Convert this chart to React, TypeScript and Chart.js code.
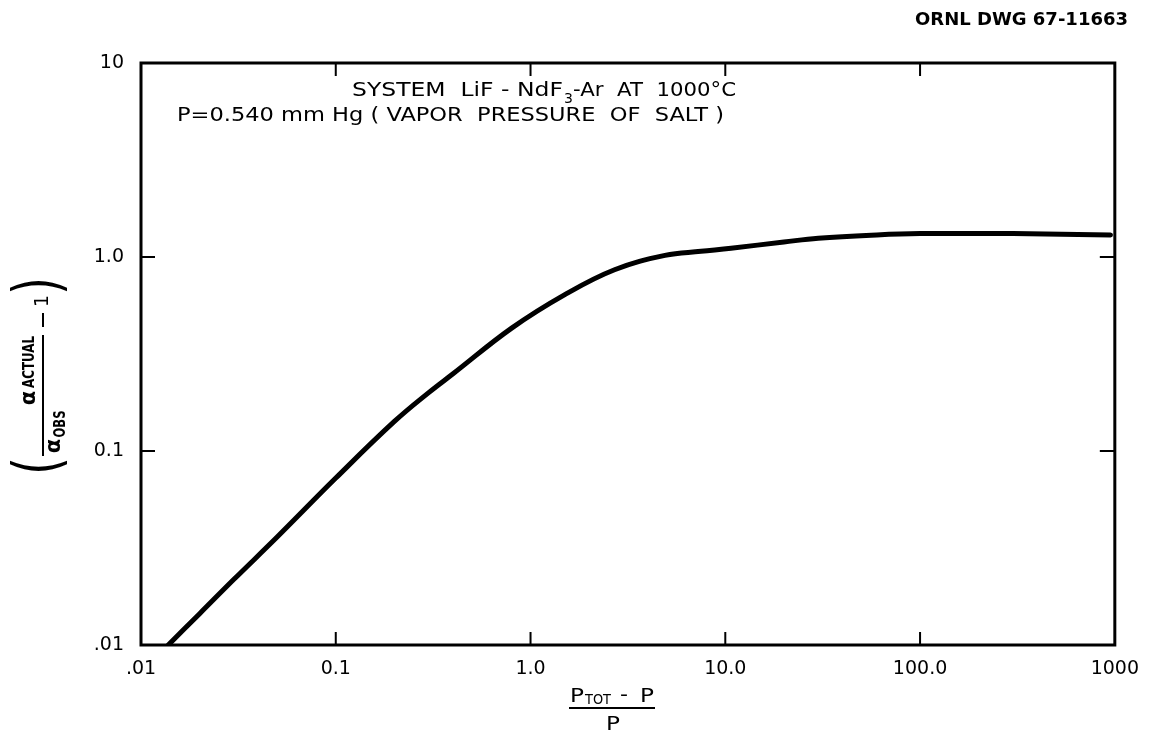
import React, { useEffect, useRef } from "react";
import { Chart, registerables } from "chart.js";

Chart.register(...registerables);

// Curve: (P_TOT - P)/P  vs  (alpha_actual/alpha_obs - 1)
const xValues = [0.0138, 0.02, 0.03, 0.05, 0.1, 0.2, 0.3, 0.4, 0.8, 1.5, 2.7, 4.9, 7.5, 10.7, 20, 30, 60, 100, 300, 950];
const yValues = [0.01, 0.0145, 0.0218, 0.036, 0.0725, 0.142, 0.2, 0.25, 0.43, 0.64, 0.86, 1.02, 1.07, 1.11, 1.195, 1.25, 1.3, 1.32, 1.32, 1.3];

const xTickValues = [0.01, 0.1, 1, 10, 100, 1000];
const xTickLabels = [".01", "0.1", "1.0", "10.0", "100.0", "1000"];
const yTickValues = [0.01, 0.1, 1, 10];
const yTickLabels = [".01", "0.1", "1.0", "10"];

const annotationLine1a = "SYSTEM  LiF - NdF";
const annotationLine1sub = "3";
const annotationLine1b = "-Ar  AT  1000°C";
const annotationLine2 = "P=0.540 mm Hg ( VAPOR  PRESSURE  OF  SALT )";
const drawingNumber = "ORNL DWG 67-11663";

const FONT = "'DejaVu Sans', 'Liberation Sans', sans-serif";

function labelFor(values: number[], labels: string[], v: number) {
  const i = values.findIndex((t) => Math.abs(Math.log10(t) - Math.log10(v)) < 1e-6);
  return i >= 0 ? labels[i] : "";
}

function fitText(ctx: CanvasRenderingContext2D, text: string, x: number, y: number, width: number, font: string) {
  ctx.save();
  ctx.font = font;
  ctx.textAlign = "left";
  ctx.textBaseline = "alphabetic";
  const w = ctx.measureText(text).width;
  ctx.translate(x, y);
  ctx.scale(width / w, 1);
  ctx.fillText(text, 0, 0);
  ctx.restore();
}

// text rotated -90deg, centered at (sx, sy), stretched along reading direction to len
function rotText(ctx: CanvasRenderingContext2D, text: string, sx: number, sy: number, font: string, len?: number) {
  ctx.save();
  ctx.translate(sx, sy);
  ctx.rotate(-Math.PI / 2);
  ctx.font = font;
  ctx.textAlign = "center";
  ctx.textBaseline = "middle";
  if (len) {
    const w = ctx.measureText(text).width;
    ctx.scale(len / w, 1);
  }
  ctx.fillText(text, 0, 0);
  ctx.restore();
}

const framePlugin = {
  id: "frame",
  afterDraw(chart: any) {
    const ctx: CanvasRenderingContext2D = chart.ctx;
    const { left, right, top, bottom } = chart.chartArea;
    const xs = chart.scales.x;
    const ys = chart.scales.y;
    ctx.save();
    ctx.strokeStyle = "#000";
    ctx.fillStyle = "#000";
    ctx.lineWidth = 3;
    ctx.strokeRect(left, top, right - left, bottom - top);

    ctx.lineWidth = 2;
    ctx.beginPath();
    xTickValues.slice(1, -1).forEach((v) => {
      const px = xs.getPixelForValue(v);
      ctx.moveTo(px, bottom);
      ctx.lineTo(px, bottom - 13);
      ctx.moveTo(px, top);
      ctx.lineTo(px, top + 13);
    });
    yTickValues.slice(1, -1).forEach((v) => {
      const py = ys.getPixelForValue(v);
      ctx.moveTo(left, py);
      ctx.lineTo(left + 14, py);
      ctx.moveTo(right, py);
      ctx.lineTo(right - 15, py);
    });
    ctx.stroke();

    // annotations inside the plot
    const f19 = `19px ${FONT}`;
    fitText(ctx, annotationLine1a, 352, 96, 211, f19);
    ctx.font = `14px ${FONT}`;
    ctx.fillText(annotationLine1sub, 564, 103);
    fitText(ctx, annotationLine1b, 573, 96, 163, f19);
    fitText(ctx, annotationLine2, 177, 121, 547, f19);

    // drawing number
    fitText(ctx, drawingNumber, 915, 25, 213, `bold 17px ${FONT}`);

    // x-axis title: (P_TOT - P) / P
    fitText(ctx, "P", 570, 702, 14, f19);
    fitText(ctx, "TOT", 585, 704, 26, `14px ${FONT}`);
    fitText(ctx, "-", 620, 701, 8, f19);
    fitText(ctx, "P", 640, 702, 14, f19);
    ctx.lineWidth = 2;
    ctx.beginPath();
    ctx.moveTo(569, 708);
    ctx.lineTo(655, 708);
    ctx.stroke();
    fitText(ctx, "P", 606, 730, 14, f19);

    // y-axis title: ( alpha_ACTUAL / alpha_OBS - 1 )
    rotText(ctx, "(", 42, 466, `64px ${FONT}`, 18);
    rotText(ctx, "α", 55, 446, `bold 21px ${FONT}`);
    rotText(ctx, "OBS", 61, 424, `bold 15px ${FONT}`, 27);
    rotText(ctx, "α", 30, 398, `bold 21px ${FONT}`);
    rotText(ctx, "ACTUAL", 30, 362, `bold 16px ${FONT}`, 52);
    ctx.lineWidth = 2;
    ctx.beginPath();
    ctx.moveTo(43, 456);
    ctx.lineTo(43, 335);
    ctx.stroke();
    ctx.beginPath();
    ctx.moveTo(43, 327);
    ctx.lineTo(43, 313);
    ctx.stroke();
    rotText(ctx, "1", 43, 301, `19px ${FONT}`);
    rotText(ctx, ")", 42, 286, `64px ${FONT}`, 18);
    ctx.restore();
  },
};

export default function App() {
  const ref = useRef<HTMLCanvasElement | null>(null);
  useEffect(() => {
    if (!ref.current) return;
    const chart = new Chart(ref.current, {
      type: "line",
      data: {
        datasets: [
          {
            data: xValues.map((x, i) => ({ x, y: yValues[i] })),
            borderColor: "#000",
            borderWidth: 5,
            pointRadius: 0,
            fill: false,
            tension: 0.4,
            borderCapStyle: "round",
          } as any,
        ],
      },
      options: {
        animation: false,
        responsive: false,
        maintainAspectRatio: false,
        layout: { padding: { left: 0, right: 37, top: 63, bottom: 0 } },
        plugins: { legend: { display: false }, tooltip: { enabled: false } },
        scales: {
          x: {
            type: "logarithmic",
            min: 0.01,
            max: 1000,
            afterBuildTicks: (s: any) => {
              s.ticks = xTickValues.map((v) => ({ value: v }));
            },
            afterFit: (s: any) => {
              s.height = 89;
            },
            grid: { display: false, drawTicks: false },
            border: { display: false },
            ticks: {
              autoSkip: false,
              maxRotation: 0,
              padding: 13,
              color: "#000",
              font: { family: FONT, size: 19 },
              callback: (v: any) => labelFor(xTickValues, xTickLabels, Number(v)),
            },
          },
          y: {
            type: "logarithmic",
            min: 0.01,
            max: 10,
            afterBuildTicks: (s: any) => {
              s.ticks = yTickValues.map((v) => ({ value: v }));
            },
            afterFit: (s: any) => {
              s.width = 141;
            },
            grid: { display: false, drawTicks: false },
            border: { display: false },
            ticks: {
              autoSkip: false,
              padding: 17,
              color: "#000",
              font: { family: FONT, size: 19 },
              callback: (v: any) => labelFor(yTickValues, yTickLabels, Number(v)),
            },
          },
        },
      },
      plugins: [framePlugin],
    });
    return () => chart.destroy();
  }, []);
  return (
    <div style={{ position: "absolute", left: 0, top: 0, width: 1152, height: 734, background: "#fff" }}>
      <canvas ref={ref} width={1152} height={734} style={{ display: "block", width: 1152, height: 734 }} />
    </div>
  );
}
